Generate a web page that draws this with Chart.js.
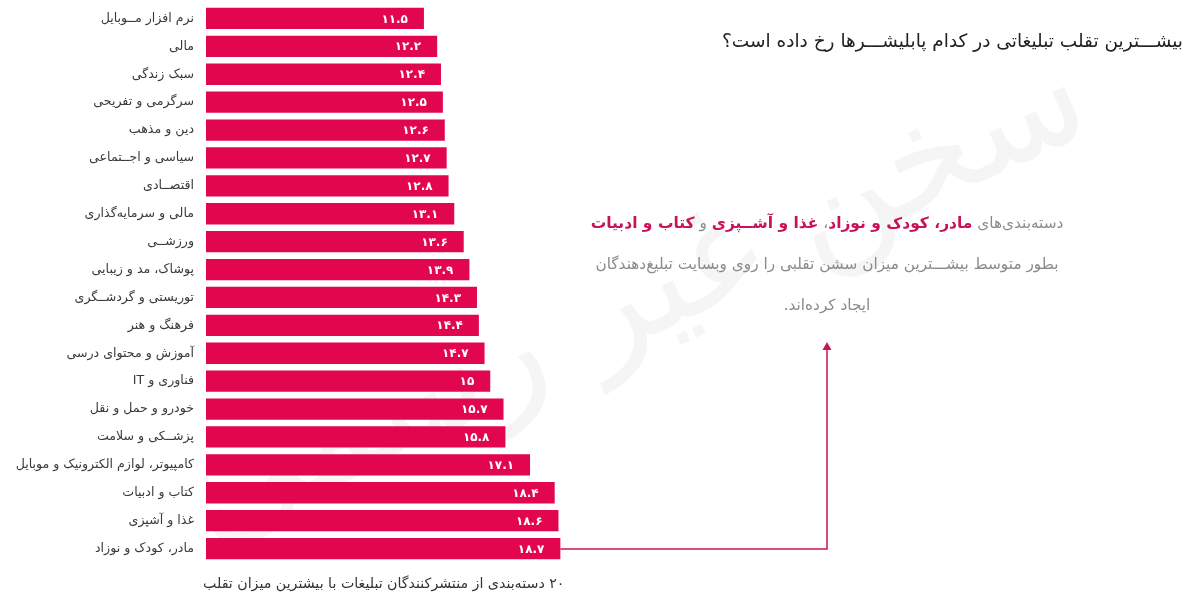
<!DOCTYPE html>
<html lang="fa">
<head>
<meta charset="UTF-8" />
<title>نمودار تقلب تبلیغاتی</title>
<script src="https://cdn.jsdelivr.net/npm/chart.js@4"></script>
<style>
  html, body { margin: 0; padding: 0; background: #fff; }
  body { width: 1200px; height: 596px; position: relative; overflow: hidden; font-family: "DejaVu Sans", "Noto Sans", sans-serif; }
  #chart { position: absolute; left: 0; top: 0; }
  .txt { position: absolute; direction: rtl; white-space: nowrap; }
  #watermark { position: absolute; right: 125px; top: -15px; line-height: 200px; font-size: 140px; color: #f5f5f5; transform-origin: 100% 50%; transform: rotate(-25deg); white-space: nowrap; direction: rtl; }
  #title { right: 17px; top: 30px; font-size: 18.5px; color: #222; }
  #caption { left: 203px; top: 575px; font-size: 14.2px; color: #333; }
  #note { left: 582px; width: 490px; text-align: center; color: #8a8a8a; font-size: 15.3px; line-height: 41px; top: 203px; white-space: normal; }
  #note b { color: #c8135a; font-size: 15.5px; }
</style>
</head>
<body>
<div id="watermark">سخن غیر رسمی</div>
<canvas id="chart" width="1200" height="596" dir="rtl" style="width:1200px;height:596px"></canvas>
<div class="txt" id="title">بیشـــترین تقلب تبلیغاتی در کدام پابلیشـــرها رخ داده است؟</div>
<div class="txt" id="note">دسته‌بندی‌های <b>مادر، کودک و نوزاد</b>، <b>غذا و آشــپزی</b> و <b>کتاب و ادبیات</b><br>بطور متوسط بیشـــترین میزان سشن تقلبی را روی وبسایت تبلیغ‌دهندگان<br>ایجاد کرده‌اند.</div>
<div class="txt" id="caption">۲۰ دسته‌بندی از منتشرکنندگان تبلیغات با بیشترین میزان تقلب</div>

<script>
  const categories = [
    "نرم افزار مــوبایل", "مالی", "سبک زندگی", "سرگرمی و تفریحی", "دین و مذهب",
    "سیاسی و اجــتماعی", "اقتصــادی", "مالی و سرمایه‌گذاری", "ورزشــی", "پوشاک، مد و زیبایی",
    "توریستی و گردشــگری", "فرهنگ و هنر", "آموزش و محتوای درسی", "فناوری و IT", "خودرو و حمل و نقل",
    "پزشــکی و سلامت", "کامپیوتر، لوازم الکترونیک و موبایل", "کتاب و ادبیات", "غذا و آشپزی", "مادر، کودک و نوزاد"
  ];
  const fraudValues = [11.5, 12.2, 12.4, 12.5, 12.6, 12.7, 12.8, 13.1, 13.6, 13.9, 14.3, 14.4, 14.7, 15, 15.7, 15.8, 17.1, 18.4, 18.6, 18.7];

  const BAR_COLOR = "#e2064f";
  const ARROW_COLOR = "#c8135a";

  function toPersian(v) {
    return String(v).replace(/\d/g, function (d) { return "۰۱۲۳۴۵۶۷۸۹"[d]; });
  }

  // value labels inside the bar ends
  const valueLabels = {
    id: "valueLabels",
    afterDatasetsDraw(chart) {
      const ctx = chart.ctx;
      const meta = chart.getDatasetMeta(0);
      ctx.save();
      ctx.fillStyle = "#fff";
      ctx.font = "bold 12px 'DejaVu Sans'";
      ctx.textAlign = "right";
      ctx.textBaseline = "middle";
      meta.data.forEach(function (bar, i) {
        ctx.fillText(toPersian(fraudValues[i]), bar.x - 16, bar.y + 1);
      });
      ctx.restore();
    },
  };

  // line from the longest bar up to the note
  const connector = {
    id: "connector",
    afterDatasetsDraw(chart) {
      const ctx = chart.ctx;
      const last = fraudValues.length - 1;
      const x0 = chart.scales.x.getPixelForValue(fraudValues[last]);
      const y0 = chart.scales.y.getPixelForValue(last);
      const xLine = 827, yTop = 342;
      ctx.save();
      ctx.strokeStyle = ARROW_COLOR;
      ctx.fillStyle = ARROW_COLOR;
      ctx.lineWidth = 1.5;
      ctx.beginPath();
      ctx.moveTo(x0, y0 + 0.5);
      ctx.lineTo(xLine, y0 + 0.5);
      ctx.lineTo(xLine, yTop + 6);
      ctx.stroke();
      ctx.beginPath();
      ctx.moveTo(xLine, yTop);
      ctx.lineTo(xLine - 4.5, yTop + 8);
      ctx.lineTo(xLine + 4.5, yTop + 8);
      ctx.closePath();
      ctx.fill();
      ctx.restore();
    },
  };

  new Chart(document.getElementById("chart"), {
    type: "bar",
    data: {
      labels: categories,
      datasets: [{
        data: fraudValues,
        backgroundColor: BAR_COLOR,
        categoryPercentage: 1,
        barPercentage: 0.765,
      }],
    },
    plugins: [valueLabels, connector],
    options: {
      indexAxis: "y",
      responsive: false,
      animation: false,
      layout: { padding: { top: 4.5, bottom: 33.5, left: 0, right: 615 } },
      plugins: { legend: { display: false }, tooltip: { enabled: false } },
      scales: {
        x: { display: false, min: 0, max: 20 },
        y: {
          afterFit(scale) {
            scale.width = 206;
            scale.paddingTop = 0;
            scale.paddingBottom = 0;
          },
          grid: { display: false },
          border: { display: false },
          ticks: { color: "#3a3a3a", padding: 4, autoSkip: false, font: { family: "DejaVu Sans", size: 12.6 } },
        },
      },
    },
  });
</script>
</body>
</html>
